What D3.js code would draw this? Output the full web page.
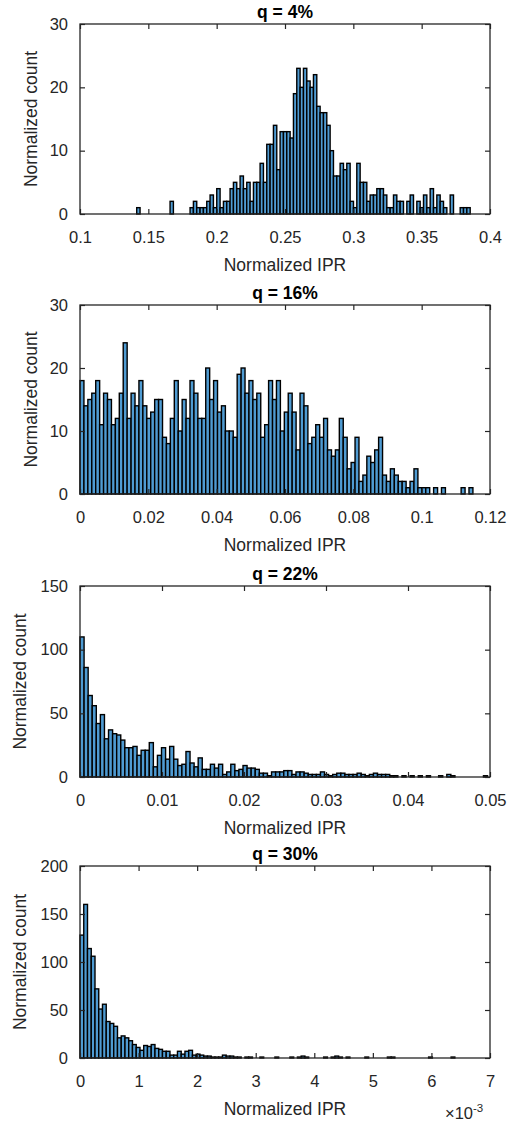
<!DOCTYPE html>
<html>
<head>
<meta charset="utf-8">
<script src="https://cdn.jsdelivr.net/npm/d3@7"></script>
<style>
  html, body { margin: 0; padding: 0; background: #fff; }
  svg { display: block; font-family: "Liberation Sans", Arial, sans-serif; }
</style>
</head>
<body>
<svg id="chart" width="515" height="1123"></svg>
<script>
// ---------------- data ----------------
const titles = ["q = 4%", "q = 16%", "q = 22%", "q = 30%"];
const xLabel = "Normalized IPR";
const yLabel = "Normalized count";

// histogram bin starts and widths (in data units)
const binStart = [0.1415, 0, 0, 0];
const binWidth = [0.00244, 0.00115, 0.000497, 0.000064];

const countsQ4 = [1,0,0,0,0,0,0,0,0,0, 2,0,0,0,0,0,1,2,1,1, 1,2,3,1,4,1,2,2,4,5,
  4,6,4,5,2,5,5,8,5,11, 11,14,7,13,13,13,12,19,23,20, 23,21,20,22,17,16,16,14,10,6,
  6,8,7,8,2,1,8,5,5,2, 3,3,4,4,3,1,1,3,2,2, 0,2,3,0,2,1,3,1,4,1, 3,2,1,0,3,0,0,1,1,1];
const countsQ16 = [18,14,15,16,18,11,16,15,11,12, 16,24,12,16,14,18,14,12,13,15,
  15,9,8,12,18,10,15,12,18,16, 12,12,20,15,18,13,14,10,10,9, 19,20,16,18,15,16,9,11,18,15,
  18,10,13,16,13,7,16,14,8,9, 11,9,12,7,6,7,12,9,4,5, 9,2,3,6,5,7,9,3,2,4,
  3,2,2,1,2,4,1,1,1,0, 1,0,1,0,0,0,0,1,0,1];
const countsQ22 = [110,86,64,56,42,49,30,37,34,33, 29,23,23,24,17,21,21,27,8,17,
  23,14,24,14,9,10,20,11,8,15, 6,6,10,7,10,2,4,10,5,6, 9,7,7,6,3,3,1,4,4,4,
  5,5,2,4,4,3,2,2,2,4, 2,1,2,3,3,2,2,2,3,2, 1,2,3,2,2,2,1,1,0,1, 0,1,0,1,0,1,0,0,1,0,
  2,1,0,0,0,0,0,0,0,1];
const countsQ30 = [128,160,114,106,72,51,56,38,36,33, 21,23,21,18,14,11,8,13,12,14,
  10,9,7,7,3,3,7,4,7,8, 3,4,3,2,2,1,1,1,3,2, 2,1,1,0,1,1,0,0,1,0,
  0,0,1,0,0,0,1,0,1,2, 1,0,0,0,0,1,0,1,2,1, 0,1,0,0,0,0,1,0,0,0, 0,0,1,1,0,0,0,0,0,0,
  0,0,0,1,0,0,0,0,0,1];
const allCounts = [countsQ4, countsQ16, countsQ22, countsQ30];

const xDomains = [[0.1, 0.4], [0, 0.12], [0, 0.05], [0, 0.007]];
const yDomains = [[0, 30], [0, 30], [0, 150], [0, 200]];
const xTicks = [
  [0.1, 0.15, 0.2, 0.25, 0.3, 0.35, 0.4],
  [0, 0.02, 0.04, 0.06, 0.08, 0.1, 0.12],
  [0, 0.01, 0.02, 0.03, 0.04, 0.05],
  [0, 0.001, 0.002, 0.003, 0.004, 0.005, 0.006, 0.007]
];
const xTickLabels = [
  ["0.1", "0.15", "0.2", "0.25", "0.3", "0.35", "0.4"],
  ["0", "0.02", "0.04", "0.06", "0.08", "0.1", "0.12"],
  ["0", "0.01", "0.02", "0.03", "0.04", "0.05"],
  ["0", "1", "2", "3", "4", "5", "6", "7"]
];
const yTicks = [[0, 10, 20, 30], [0, 10, 20, 30], [0, 50, 100, 150], [0, 50, 100, 150, 200]];
const exponentLabel = ["", "", "", "-3"];

// ---------------- layout ----------------
const left = 80, right = 490;
const tops = [24, 305, 586, 866];
const bottoms = [214, 494, 777, 1058];
const yLabelX = [37, 37, 26, 26];
const axisColor = "#262626";
const barFill = "#4f9bd2";
const tickFs = 16.5, labelFs = 17.5;

const svg = d3.select("#chart");

allCounts.forEach((counts, p) => {
  const x = d3.scaleLinear().domain(xDomains[p]).range([left, right]);
  const y = d3.scaleLinear().domain(yDomains[p]).range([bottoms[p], tops[p]]);
  const g = svg.append("g");

  // bars
  const bins = counts.map((c, i) => ({
    x0: binStart[p] + i * binWidth[p],
    x1: binStart[p] + (i + 1) * binWidth[p],
    v: c
  }));
  g.append("g").selectAll("rect").data(bins).join("rect")
    .attr("x", d => x(d.x0))
    .attr("width", d => x(d.x1) - x(d.x0))
    .attr("y", d => y(d.v))
    .attr("height", d => y(0) - y(d.v))
    .attr("fill", barFill)
    .attr("stroke", "#000")
    .attr("stroke-width", 1.4);

  const fmt = (vals, labels) => (d => labels[vals.indexOf(d)]);

  // bottom axis
  const ax = g.append("g").attr("transform", `translate(0,${bottoms[p]})`)
    .call(d3.axisBottom(x).tickValues(xTicks[p]).tickSize(-5)
      .tickFormat(fmt(xTicks[p], xTickLabels[p])));
  ax.selectAll("text").attr("y", 29).attr("dy", null)
    .attr("font-size", tickFs).attr("fill", axisColor).attr("font-family", "Liberation Sans, Arial, sans-serif");
  // top axis (ticks only)
  const axT = g.append("g").attr("transform", `translate(0,${tops[p]})`)
    .call(d3.axisTop(x).tickValues(xTicks[p]).tickSize(-5).tickFormat(""));
  // left axis
  const ayL = g.append("g").attr("transform", `translate(${left},0)`)
    .call(d3.axisLeft(y).tickValues(yTicks[p]).tickSize(-5).tickPadding(12));
  ayL.selectAll("text").attr("font-size", tickFs).attr("fill", axisColor)
    .attr("font-family", "Liberation Sans, Arial, sans-serif");
  // right axis (ticks only)
  const ayR = g.append("g").attr("transform", `translate(${right},0)`)
    .call(d3.axisRight(y).tickValues(yTicks[p]).tickSize(-5).tickFormat(""));

  [ax, axT, ayL, ayR].forEach(a => {
    a.select(".domain").remove();
    a.selectAll("line").attr("stroke", axisColor).attr("stroke-width", 1.2);
  });

  // box
  g.append("rect")
    .attr("x", left).attr("y", tops[p])
    .attr("width", right - left).attr("height", bottoms[p] - tops[p])
    .attr("fill", "none").attr("stroke", axisColor).attr("stroke-width", 1.3);

  // title
  g.append("text")
    .attr("x", (left + right) / 2).attr("y", tops[p] - 6)
    .attr("text-anchor", "middle").attr("font-weight", "bold")
    .attr("font-size", labelFs).attr("fill", "#000")
    .text(titles[p]);

  // x label
  g.append("text")
    .attr("x", (left + right) / 2).attr("y", bottoms[p] + 57)
    .attr("text-anchor", "middle").attr("font-size", labelFs).attr("fill", axisColor)
    .text(xLabel);

  // y label
  const cy = (tops[p] + bottoms[p]) / 2;
  g.append("text")
    .attr("transform", `translate(${yLabelX[p]},${cy}) rotate(-90)`)
    .attr("text-anchor", "middle").attr("font-size", labelFs).attr("fill", axisColor)
    .text(yLabel);

  // exponent
  if (exponentLabel[p]) {
    const t = g.append("text")
      .attr("x", 445).attr("y", bottoms[p] + 61)
      .attr("font-size", tickFs).attr("fill", axisColor);
    t.append("tspan").text("\u00d710");
    t.append("tspan").attr("dy", -7).attr("font-size", 11.5).text(exponentLabel[p]);
  }
});
</script>
</body>
</html>
